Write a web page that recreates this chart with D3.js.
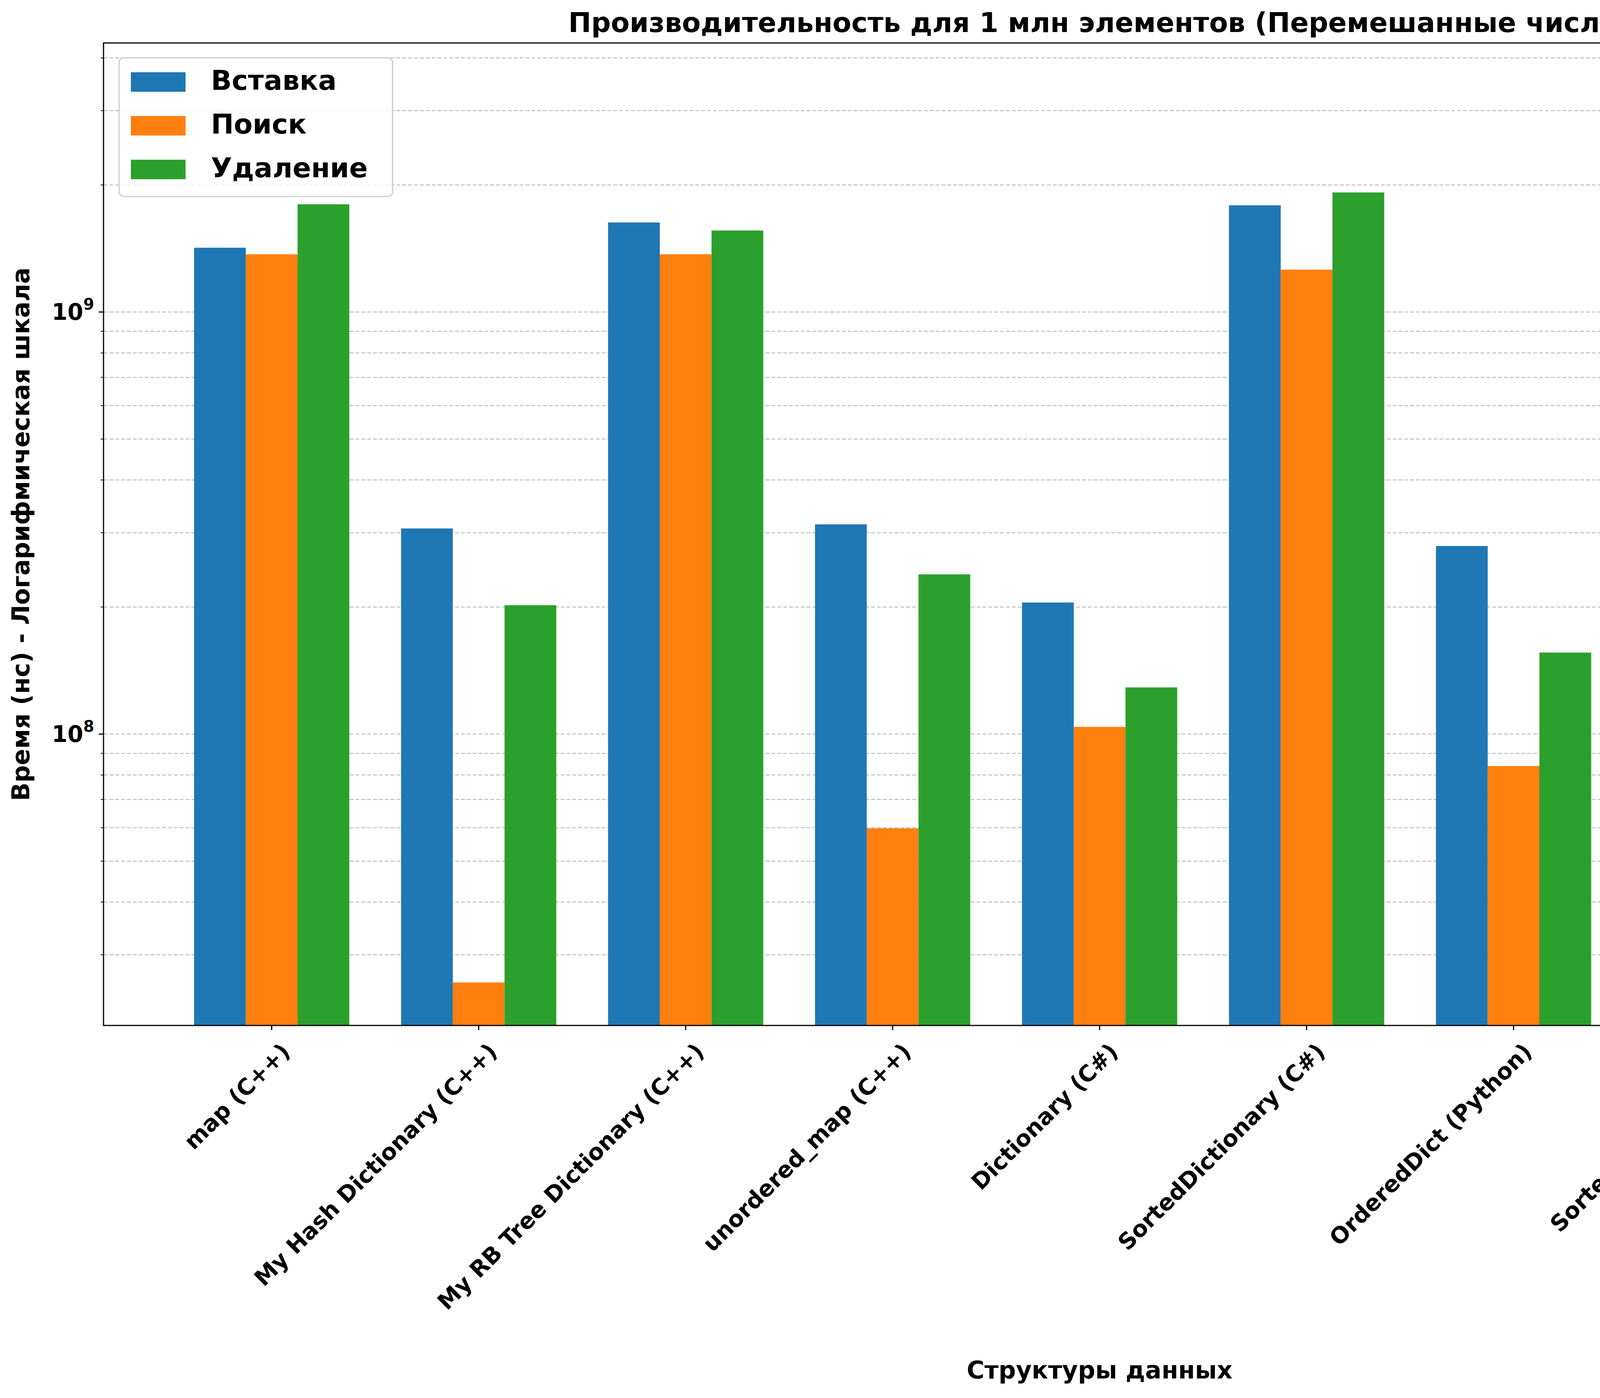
<!DOCTYPE html><html><head><meta charset="utf-8"><script src="https://cdn.jsdelivr.net/npm/d3@7"></script>
<style>body{margin:0;background:#fff}text{font-family:"DejaVu Sans";font-weight:bold}</style></head><body><svg id="c" width="5396" height="3580"></svg>
<script>
const categories=["map (C++)","My Hash Dictionary (C++)","My RB Tree Dictionary (C++)","unordered_map (C++)","Dictionary (C#)","SortedDictionary (C#)","OrderedDict (Python)","SortedDict (Python)","dict (Python)"];
const seriesNames=["Вставка","Поиск","Удаление"];
const colors=["#1f77b4","#ff7f0e","#2ca02c"];
const insertVals=[1.42e9,3.07e8,1.63e9,3.14e8,2.05e8,1.79e9,2.79e8,3.40e9,1.82e8];
const searchVals=[1.37e9,2.58e7,1.37e9,5.98e7,1.04e8,1.26e9,8.40e7,1.24e8,8.83e7];
const deleteVals=[1.80e9,2.02e8,1.56e9,2.39e8,1.29e8,1.92e9,1.56e8,3.07e9,1.40e8];
const series=[insertVals,searchVals,deleteVals];
const majorTicks=[1e8,1e9];
const L=265,R=5365,T=110,B=2626;
const svg=d3.select("#c");
const x=d3.scaleLinear().domain([-0.8125,8.8125]).range([L,R]);
const y=d3.scaleLog().domain([2.04e7,4.34e9]).range([B,T]);
// grid
const gt=[];for(let e=7;e<=9;e++)for(let m=1;m<10;m++){const v=m*Math.pow(10,e);if(v>=2.04e7&&v<=4.34e9)gt.push(v);}
svg.append("g").selectAll("line").data(gt).join("line").attr("x1",L).attr("x2",R).attr("y1",d=>y(d)).attr("y2",d=>y(d)).attr("stroke","#b0b0b0").attr("stroke-width",2.5).attr("stroke-dasharray","10,5").attr("opacity",0.8);
// bars
series.forEach((s,si)=>{svg.append("g").selectAll("rect").data(s).join("rect").attr("x",(d,i)=>x(i+(si-1)*0.25-0.125)).attr("width",x(0.25)-x(0)).attr("y",d=>y(d)).attr("height",d=>B-y(d)).attr("fill",colors[si]);});
// frame
svg.append("rect").attr("x",L).attr("y",T).attr("width",R-L).attr("height",B-T).attr("fill","none").attr("stroke","#000").attr("stroke-width",3);
// y ticks
svg.append("g").selectAll("line").data(gt).join("line").attr("x1",L).attr("x2",d=>majorTicks.includes(d)?L-12:L-7).attr("y1",d=>y(d)).attr("y2",d=>y(d)).attr("stroke","#000").attr("stroke-width",d=>majorTicks.includes(d)?3:2);
majorTicks.forEach(v=>{const t=svg.append("text").attr("x",L-24).attr("y",y(v)+20).attr("text-anchor","end").attr("font-size",58);t.append("tspan").text("10");t.append("tspan").attr("font-size",40).attr("dy",-26).text(Math.log10(v));});
// x ticks
categories.forEach((c,i)=>{svg.append("line").attr("x1",x(i)).attr("x2",x(i)).attr("y1",B).attr("y2",B+12).attr("stroke","#000").attr("stroke-width",3);
svg.append("text").attr("transform",`translate(${x(i)+20},${B+40}) rotate(-45)`).attr("text-anchor","end").attr("dominant-baseline","hanging").attr("font-size",58).text(c);});
svg.append("text").attr("x",(L+R)/2).attr("y",82).attr("text-anchor","middle").attr("font-size",70).text("Производительность для 1 млн элементов (Перемешанные числа)");
svg.append("text").attr("x",(L+R)/2).attr("y",3530).attr("text-anchor","middle").attr("font-size",62).text("Структуры данных");
svg.append("text").attr("transform",`translate(75,${(T+B)/2}) rotate(-90)`).attr("text-anchor","middle").attr("font-size",62).text("Время (нс) - Логарифмическая шкала");
// legend
const lg=svg.append("g");
lg.append("rect").attr("x",305).attr("y",148).attr("width",700).attr("height",355).attr("rx",12).attr("fill","#fff").attr("fill-opacity",0.8).attr("stroke","#ccc").attr("stroke-width",3);
seriesNames.forEach((n,i)=>{lg.append("rect").attr("x",335).attr("y",185+i*112).attr("width",140).attr("height",50).attr("fill",colors[i]);
lg.append("text").attr("x",540).attr("y",230+i*112).attr("font-size",70).text(n);});
</script></body></html>
